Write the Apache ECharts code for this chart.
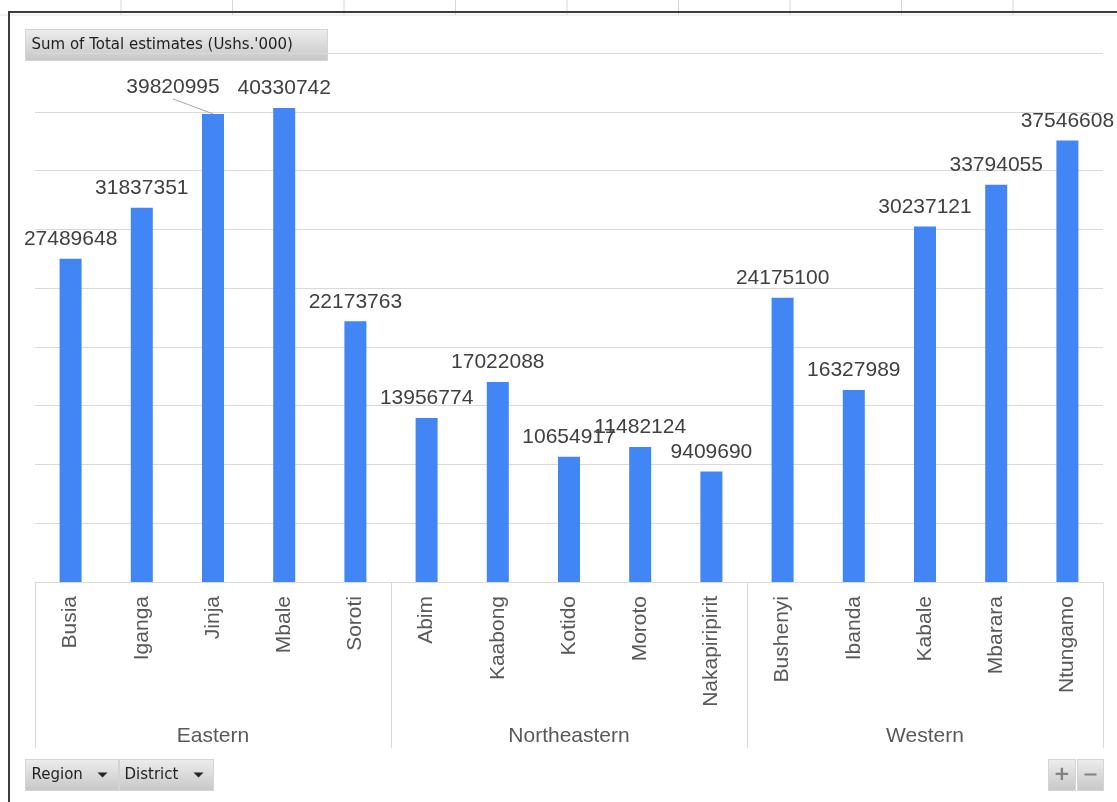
<!DOCTYPE html>
<html>
<head>
<meta charset="utf-8">
<title>Sum of Total estimates (Ushs.'000)</title>
<script src="https://cdn.jsdelivr.net/npm/echarts@6/dist/echarts.min.js"></script>
<style>
  html, body { margin: 0; padding: 0; background: #ffffff; }
  #chart { width: 1117px; height: 802px; }
</style>
</head>
<body>
<div id="chart"></div>
<script>
// District-level totals, grouped by region (values in Ushs.'000)
const districts = ['Busia', 'Iganga', 'Jinja', 'Mbale', 'Soroti',
                   'Abim', 'Kaabong', 'Kotido', 'Moroto', 'Nakapiripirit',
                   'Bushenyi', 'Ibanda', 'Kabale', 'Mbarara', 'Ntungamo'];
const totals = [27489648, 31837351, 39820995, 40330742, 22173763,
                13956774, 17022088, 10654917, 11482124, 9409690,
                24175100, 16327989, 30237121, 33794055, 37546608];
const regions = ['Eastern', 'Northeastern', 'Western'];
const valueTicks = [0, 5000000, 10000000, 15000000, 20000000, 25000000, 30000000, 35000000, 40000000, 45000000];

const FONT = "'Liberation Sans', Arial, sans-serif";
const BTN_FONT = "'DejaVu Sans', Tahoma, sans-serif";

// Labels that sit beside their bar, tied back to it with a leader line
const shiftedLabels = { 'Jinja': { dx: -40, dy: -7 } };

const btnFill = {
  type: 'linear', x: 0, y: 0, x2: 0, y2: 1,
  colorStops: [{ offset: 0, color: '#ededed' }, { offset: 1, color: '#c7c7c7' }]
};

function button(x, y, w, h, children) {
  return {
    type: 'group', x: x, y: y, z: 100,
    children: [{ type: 'rect', shape: { x: 0, y: 0, width: w, height: h },
                 style: { fill: btnFill, stroke: '#d4d4d4', lineWidth: 1 } }].concat(children)
  };
}
function arrow(x, y) {
  return { type: 'polygon', shape: { points: [[x, y], [x + 10, y], [x + 5, y + 5]] },
           style: { fill: '#262626' } };
}

// Spreadsheet column guides peeking above the chart frame
const colGuides = [];
for (let k = 0; k < 9; k++) {
  const gx = 121 + k * 111.5;
  colGuides.push({ type: 'line', shape: { x1: gx, y1: 0, x2: gx, y2: 15 },
                   style: { stroke: '#d6d6d6', lineWidth: 1 }, silent: true });
}

const decorations = colGuides.concat([
  { type: 'line', shape: { x1: 0, y1: 15, x2: 1117, y2: 15 }, style: { stroke: '#e3e3e3', lineWidth: 1 }, silent: true },
  { type: 'line', shape: { x1: 8, y1: 12, x2: 1117, y2: 12 }, style: { stroke: '#3c3c3c', lineWidth: 2 }, z: 90, silent: true },
  { type: 'line', shape: { x1: 9, y1: 12, x2: 9, y2: 802 }, style: { stroke: '#3c3c3c', lineWidth: 2 }, z: 90, silent: true },
  button(25.5, 29.5, 302, 31, [
    { type: 'text', style: { x: 6, y: 16, text: "Sum of Total estimates (Ushs.'000)", fill: '#1f1f1f',
                             font: '15px ' + BTN_FONT, verticalAlign: 'middle' } }
  ]),
  button(25.5, 759.5, 93, 31, [
    { type: 'text', style: { x: 6, y: 16, text: 'Region', fill: '#1f1f1f',
                             font: '15px ' + BTN_FONT, verticalAlign: 'middle' } },
    arrow(72, 13)
  ]),
  button(119.5, 759.5, 94, 31, [
    { type: 'text', style: { x: 5, y: 16, text: 'District', fill: '#1f1f1f',
                             font: '15px ' + BTN_FONT, verticalAlign: 'middle' } },
    arrow(74, 13)
  ]),
  button(1048.5, 759.5, 27, 31, [
    { type: 'text', style: { x: 13.5, y: 15, text: '+', fill: '#808080',
                             font: 'bold 20px ' + BTN_FONT, align: 'center', verticalAlign: 'middle' } }
  ]),
  button(1077.5, 759.5, 26, 31, [
    { type: 'rect', shape: { x: 7, y: 14, width: 12, height: 2 }, style: { fill: '#808080' } }
  ])
]);

const chart = echarts.init(document.getElementById('chart'), null, { renderer: 'canvas' });

chart.setOption({
  backgroundColor: '#ffffff',
  animation: false,
  grid: { left: 35, right: 14, top: 53, bottom: 220, containLabel: false },
  xAxis: [
    {
      type: 'category',
      data: districts,
      position: 'bottom',
      axisLine: { show: true, lineStyle: { color: '#d9d9d9', width: 1 } },
      axisTick: { show: false },
      axisLabel: { rotate: 90, interval: 0, margin: 14, color: '#595959',
                   fontSize: 21, fontFamily: FONT }
    },
    {
      type: 'category',
      data: regions,
      position: 'bottom',
      offset: 0,
      axisLine: { show: false },
      axisTick: { show: true, interval: 0, length: 166, lineStyle: { color: '#d9d9d9', width: 1 } },
      axisLabel: { interval: 0, margin: 144, color: '#595959', fontSize: 21, fontFamily: FONT }
    }
  ],
  yAxis: {
    type: 'value',
    min: valueTicks[0],
    max: valueTicks[valueTicks.length - 1],
    interval: valueTicks[1] - valueTicks[0],
    axisLine: { show: false },
    axisTick: { show: false },
    axisLabel: { show: false },
    splitLine: { show: true, lineStyle: { color: '#d9d9d9', width: 1 } }
  },
  series: [{
    type: 'bar',
    xAxisIndex: 0,
    data: totals,
    barWidth: 22,
    itemStyle: { color: '#4285f4' },
    label: { show: true, position: 'top', distance: 9, color: '#404040',
             fontSize: 21, fontFamily: FONT },
    labelLayout: function (p) {
      const s = shiftedLabels[districts[p.dataIndex]];
      return s ? { dx: s.dx, dy: s.dy } : {};
    }
  }],
  graphic: decorations
});

// Leader lines from moved labels down to the top centre of their bars
const leaders = [];
districts.forEach(function (name, i) {
  const s = shiftedLabels[name];
  if (!s) return;
  const top = chart.convertToPixel({ xAxisIndex: 0, yAxisIndex: 0 }, [name, totals[i]]);
  leaders.push({
    type: 'line', z: 50, silent: true,
    shape: { x1: top[0] + s.dx, y1: top[1] - 15, x2: top[0], y2: top[1] },
    style: { stroke: '#a6a6a6', lineWidth: 1 }
  });
});
chart.setOption({ graphic: decorations.concat(leaders) });
</script>
</body>
</html>
